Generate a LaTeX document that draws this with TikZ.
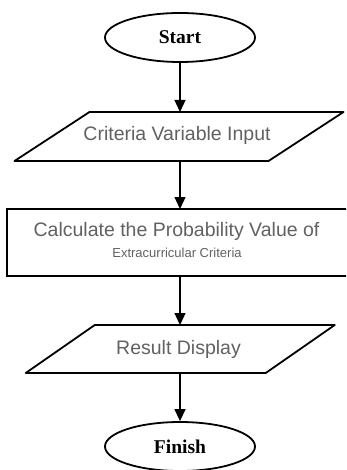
\documentclass[tikz,border=0pt]{standalone}
\usepackage{fontspec}
\setmainfont{Liberation Serif}
\setsansfont{Liberation Sans}
\usetikzlibrary{shapes.geometric,arrows.meta,calc}

\begin{document}
\begin{tikzpicture}[x=1pt,y=-1pt,
  term/.style={ellipse,draw,line width=1.8pt,minimum width=150pt,minimum height=49pt,
    inner sep=0pt,font=\fontsize{19.5}{20}\selectfont\bfseries},
  iobox/.style={rectangle,inner sep=0pt,outer sep=0pt},
  procbox/.style={rectangle,draw,line width=2.4pt,inner sep=0pt,outer sep=0pt},
  txt/.style={font=\sffamily\fontsize{19.5}{20}\selectfont,text=black!62,inner sep=0pt,anchor=base},
  smalltxt/.style={txt,font=\sffamily\fontsize{13}{14}\selectfont},
  outline/.style={draw,line width=1.8pt,line join=round},
  flow/.style={-{Triangle[width=11pt,length=12pt]},line width=1.3pt}]

\useasboundingbox (0,0) rectangle (346,470);
\clip (0,0) rectangle (346,470);

% terminals
\node[term] (start) at (180,37.5) {Start};
\node[term] (finish) at (180,446.5) {Finish};

% input parallelogram
\node[iobox,minimum width=254pt,minimum height=49pt] (in) at (179,136.5) {};
\path[outline] ($(in.north west)+(37.5,0)$) -- ($(in.north east)+(37.5,0)$)
  -- ($(in.south east)+(-37.5,0)$) -- ($(in.south west)+(-37.5,0)$) -- cycle;
\node[txt] (intxt) at (177,141) {Criteria Variable Input};

% process box
\node[procbox,minimum width=346pt,minimum height=67pt] (calc) at (180,242.5) {};
\node[txt] (calctxt) at (176.5,236) {Calculate the Probability Value of};
\node[smalltxt] (calcsub) at (177,257) {Extracurricular Criteria};

% output parallelogram
\node[iobox,minimum width=240pt,minimum height=48pt] (out) at (180.25,349) {};
\path[outline] ($(out.north west)+(34.5,0)$) -- ($(out.north east)+(34.5,0)$)
  -- ($(out.south east)+(-34.5,0)$) -- ($(out.south west)+(-34.5,0)$) -- cycle;
\node[txt] (outtxt) at (178.5,354) {Result Display};

% flow arrows
\draw[flow] (start.south) -- (start.south |- in.north);
\draw[flow] (start.south |- in.south) -- (start.south |- calc.north);
\draw[flow] (start.south |- calc.south) -- (start.south |- out.north);
\draw[flow] (start.south |- out.south) -- (finish.north);
\end{tikzpicture}
\end{document}
